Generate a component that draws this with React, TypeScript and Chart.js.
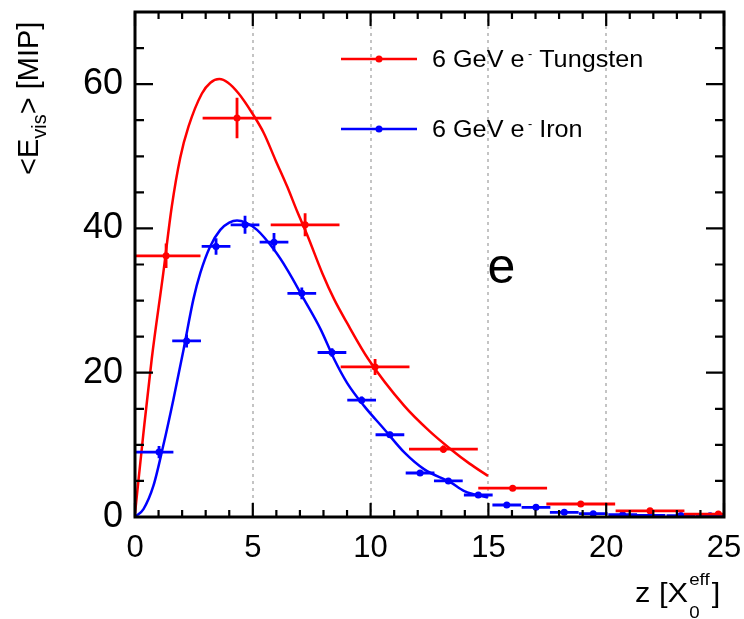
import React, { useEffect, useRef } from "react";
import { Chart, registerables } from "chart.js";

Chart.register(...registerables);

const FONT = "'Liberation Sans', Arial, Helvetica, sans-serif";
const RED = "#ff0000";
const BLUE = "#0000ff";

// Axis ranges / ticks
const xRange = [0, 25];
const yRange = [0, 70];
const xTickValues = [0, 5, 10, 15, 20, 25];
const yTickValues = [0, 20, 40, 60];
const xMinorStep = 1;
const yMinorStep = 5;
const xGridValues = [5, 10, 15, 20];

// 6 GeV e- Tungsten : data points
const tungstenX = [1.32, 4.33, 7.22, 10.19, 13.09, 16.03, 18.92, 21.86, 24.76];
const tungstenY = [36.2, 55.3, 40.5, 20.8, 9.4, 4.0, 1.8, 0.85, 0.4];
const tungstenXErr = [1.46, 1.46, 1.46, 1.46, 1.46, 1.46, 1.46, 1.46, 1.46];
const tungstenYErr = [1.7, 2.8, 1.6, 1.1, 0.5, 0.3, 0.2, 0.1, 0.1];

// 6 GeV e- Tungsten : curve
const tungstenCurveX = [0, 0.36, 0.71, 1.2, 1.56, 1.92, 2.27, 2.84, 3.2, 3.58, 3.95, 4.4, 4.97, 5.47, 5.96, 6.46, 6.89, 7.31, 7.95, 8.45, 9.0, 9.9, 11.43, 12.5, 13.4, 14.2, 14.98];
const tungstenCurveY = [0.5, 11.7, 21.9, 33.8, 43.0, 49.8, 54.1, 58.7, 60.2, 60.7, 60.2, 58.7, 56.0, 53.2, 49.5, 45.8, 42.3, 39.1, 33.8, 30.2, 26.9, 21.9, 15.4, 11.9, 9.4, 7.4, 5.7];

// 6 GeV e- Iron : data points
const ironX = [1.02, 2.19, 3.44, 4.67, 5.9, 7.08, 8.36, 9.62, 10.82, 12.1, 13.3, 14.57, 15.78, 17.02, 18.22, 19.45, 20.7, 21.9, 23.17, 24.41];
const ironY = [9.0, 24.4, 37.5, 40.5, 38.1, 31.0, 22.8, 16.2, 11.4, 6.1, 5.0, 3.05, 1.66, 1.34, 0.65, 0.46, 0.32, 0.22, 0.2, 0.18];
const ironXErrLow = [1.02, 0.61, 0.61, 0.61, 0.61, 0.61, 0.61, 0.61, 0.61, 0.61, 0.61, 0.61, 0.61, 0.61, 0.61, 0.61, 0.61, 0.61, 0.61, 0.61];
const ironXErrHigh = [0.61, 0.61, 0.61, 0.61, 0.61, 0.61, 0.61, 0.61, 0.61, 0.61, 0.61, 0.61, 0.61, 0.61, 0.61, 0.61, 0.61, 0.61, 0.61, 0.61];
const ironYErr = [0.85, 0.9, 1.15, 1.25, 1.25, 0.8, 0.6, 0.5, 0.4, 0.3, 0.3, 0.2, 0.15, 0.1, 0.1, 0.1, 0.1, 0.1, 0.1, 0.1];

// 6 GeV e- Iron : curve
const ironCurveX = [0, 0.36, 0.78, 1.2, 1.63, 2.06, 2.48, 2.77, 3.19, 3.62, 4.0, 4.33, 4.7, 5.18, 5.89, 6.46, 7.17, 7.88, 8.45, 9.0, 9.72, 10.57, 11.43, 12.28, 13.4, 13.98, 14.98];
const ironCurveY = [0, 1.1, 4.3, 9.9, 16.3, 23.2, 30.2, 33.8, 37.5, 39.8, 40.8, 41.1, 40.8, 39.8, 37.1, 34.3, 30.2, 26.0, 21.9, 18.6, 15.4, 12.2, 8.95, 6.6, 4.8, 3.6, 2.7];

// Texts
const legendMaterials = ["Tungsten", "Iron"];
const legendColors = [RED, BLUE];
const annotationText = "e";

type Part = { t: string; size: number; dy?: number };

function drawParts(ctx: CanvasRenderingContext2D, x: number, y: number, parts: Part[]) {
  let cx = x;
  for (const p of parts) {
    ctx.font = `${p.size}px ${FONT}`;
    ctx.fillText(p.t, cx, y + (p.dy || 0));
    cx += ctx.measureText(p.t).width;
  }
  return cx;
}

function zip(xs: number[], ys: number[]) {
  return xs.map((x, i) => ({ x, y: ys[i] }));
}

const decorPlugin = {
  id: "decor",
  beforeDatasetsDraw(chart: any) {
    const { ctx, chartArea: a, scales } = chart;
    const xs = scales.x;
    ctx.save();
    ctx.strokeStyle = "#c4c4c4";
    ctx.lineWidth = 2;
    ctx.setLineDash([3, 4]);
    for (const v of xGridValues) {
      const px = Math.round(xs.getPixelForValue(v));
      ctx.beginPath();
      ctx.moveTo(px, a.top);
      ctx.lineTo(px, a.bottom);
      ctx.stroke();
    }
    ctx.restore();
  },
  afterDatasetsDraw(chart: any) {
    const { ctx, chartArea: a, scales } = chart;
    const xs = scales.x;
    const ys = scales.y;

    // error bars
    ctx.save();
    ctx.beginPath();
    ctx.rect(a.left, a.top, a.right - a.left, a.bottom - a.top);
    ctx.clip();
    ctx.lineWidth = 2.8;
    const bars = (
      X: number[], Y: number[], lo: number[], hi: number[], ey: number[], color: string
    ) => {
      ctx.strokeStyle = color;
      for (let i = 0; i < X.length; i++) {
        const px = xs.getPixelForValue(X[i]);
        const py = ys.getPixelForValue(Y[i]);
        ctx.beginPath();
        ctx.moveTo(xs.getPixelForValue(X[i] - lo[i]), py);
        ctx.lineTo(xs.getPixelForValue(X[i] + hi[i]), py);
        ctx.moveTo(px, ys.getPixelForValue(Y[i] - ey[i]));
        ctx.lineTo(px, ys.getPixelForValue(Y[i] + ey[i]));
        ctx.stroke();
      }
    };
    bars(ironX, ironY, ironXErrLow, ironXErrHigh, ironYErr, BLUE);
    bars(tungstenX, tungstenY, tungstenXErr, tungstenXErr, tungstenYErr, RED);
    ctx.restore();

    // frame and inward ticks
    ctx.save();
    ctx.strokeStyle = "#000";
    ctx.lineWidth = 3;
    ctx.strokeRect(a.left, a.top, a.right - a.left, a.bottom - a.top);
    ctx.lineWidth = 2.2;
    ctx.beginPath();
    for (let v = xRange[0]; v <= xRange[1] + 1e-9; v += xMinorStep) {
      const px = xs.getPixelForValue(v);
      const len = v % 5 === 0 ? 14 : 7;
      ctx.moveTo(px, a.bottom);
      ctx.lineTo(px, a.bottom - len);
      ctx.moveTo(px, a.top);
      ctx.lineTo(px, a.top + len);
    }
    for (let v = yRange[0]; v <= yRange[1] + 1e-9; v += yMinorStep) {
      const py = ys.getPixelForValue(v);
      const len = v % 20 === 0 ? 18 : 9;
      ctx.moveTo(a.left, py);
      ctx.lineTo(a.left + len, py);
      ctx.moveTo(a.right, py);
      ctx.lineTo(a.right - len, py);
    }
    ctx.stroke();
    ctx.restore();

    // legend
    ctx.save();
    ctx.fillStyle = "#000";
    ctx.textBaseline = "alphabetic";
    const legendRows = [59, 129];
    legendMaterials.forEach((mat, i) => {
      const ly = legendRows[i];
      ctx.strokeStyle = legendColors[i];
      ctx.fillStyle = legendColors[i];
      ctx.lineWidth = 2.6;
      ctx.beginPath();
      ctx.moveTo(341, ly);
      ctx.lineTo(417, ly);
      ctx.stroke();
      ctx.beginPath();
      ctx.arc(379, ly, 3.5, 0, Math.PI * 2);
      ctx.fill();
      ctx.fillStyle = "#000";
      ctx.save();
      ctx.translate(432, ly + 8);
      ctx.scale(1.05, 1);
      drawParts(ctx, 0, 0, [
        { t: "6 GeV e", size: 24 },
        { t: " -", size: 12, dy: -9 },
        { t: " " + mat, size: 24 },
      ]);
      ctx.restore();
    });

    // annotation
    ctx.font = `50px ${FONT}`;
    ctx.textAlign = "center";
    ctx.fillText(annotationText, 501.5, 283);
    ctx.textAlign = "left";

    // x title: z [X_0^eff]
    ctx.save();
    ctx.translate(635, 602);
    ctx.scale(1.1, 1);
    let cx = drawParts(ctx, 0, 0, [{ t: "z [X", size: 28 }]);
    ctx.font = `17px ${FONT}`;
    const w1 = ctx.measureText("eff").width;
    ctx.fillText("eff", cx + 1, -17);
    ctx.fillText("0", cx + 1, 16);
    drawParts(ctx, cx + w1 + 3, 0, [{ t: "]", size: 28 }]);
    ctx.restore();

    // y title: <E_vis> [MIP]
    ctx.translate(38, 175);
    ctx.rotate(-Math.PI / 2);
    drawParts(ctx, 0, 0, [
      { t: "<E", size: 29 },
      { t: "vis", size: 20, dy: 8 },
      { t: "> [MIP]", size: 29 },
    ]);
    ctx.restore();
  },
};

export default function App() {
  const canvasRef = useRef<HTMLCanvasElement | null>(null);

  useEffect(() => {
    document.body.style.margin = "0";
    const canvas = canvasRef.current;
    if (!canvas) return;
    const chart = new Chart(canvas, {
      type: "line",
      data: {
        datasets: [
          {
            label: "Tungsten curve",
            data: zip(tungstenCurveX, tungstenCurveY),
            borderColor: RED,
            borderWidth: 2.5,
            pointRadius: 0,
            cubicInterpolationMode: "monotone",
            fill: false,
          },
          {
            label: "Iron curve",
            data: zip(ironCurveX, ironCurveY),
            borderColor: BLUE,
            borderWidth: 2.5,
            pointRadius: 0,
            cubicInterpolationMode: "monotone",
            fill: false,
          },
          {
            label: "6 GeV e- Tungsten",
            data: zip(tungstenX, tungstenY),
            showLine: false,
            pointRadius: 3.5,
            pointBackgroundColor: RED,
            pointBorderWidth: 0,
            borderColor: RED,
          },
          {
            label: "6 GeV e- Iron",
            data: zip(ironX, ironY),
            showLine: false,
            pointRadius: 3.5,
            pointBackgroundColor: BLUE,
            pointBorderWidth: 0,
            borderColor: BLUE,
          },
        ],
      } as any,
      options: {
        responsive: false,
        animation: false,
        devicePixelRatio: 1,
        layout: { padding: { top: 12, right: 20, left: 0, bottom: 0 } },
        plugins: {
          legend: { display: false },
          tooltip: { enabled: false },
        },
        scales: {
          x: {
            type: "linear",
            min: xRange[0],
            max: xRange[1],
            afterBuildTicks: (s: any) => {
              s.ticks = xTickValues.map((v) => ({ value: v }));
            },
            afterFit: (s: any) => {
              s.height = 102;
              s.paddingLeft = 0;
              s.paddingRight = 0;
            },
            grid: { display: false, drawTicks: false },
            border: { display: false },
            ticks: {
              color: "#000",
              font: { family: FONT, size: 31 },
              padding: 13,
              maxRotation: 0,
              autoSkip: false,
            },
          },
          y: {
            type: "linear",
            min: yRange[0],
            max: yRange[1],
            afterBuildTicks: (s: any) => {
              s.ticks = yTickValues.map((v) => ({ value: v }));
            },
            afterFit: (s: any) => {
              s.width = 135;
              s.paddingTop = 0;
              s.paddingBottom = 0;
            },
            grid: { display: false, drawTicks: false },
            border: { display: false },
            ticks: {
              color: "#000",
              font: { family: FONT, size: 36 },
              padding: 12,
              autoSkip: false,
            },
          },
        },
      } as any,
      plugins: [decorPlugin],
    });
    return () => chart.destroy();
  }, []);

  return (
    <div style={{ width: 744, height: 619 }}>
      <canvas ref={canvasRef} width={744} height={619} style={{ display: "block" }} />
    </div>
  );
}
